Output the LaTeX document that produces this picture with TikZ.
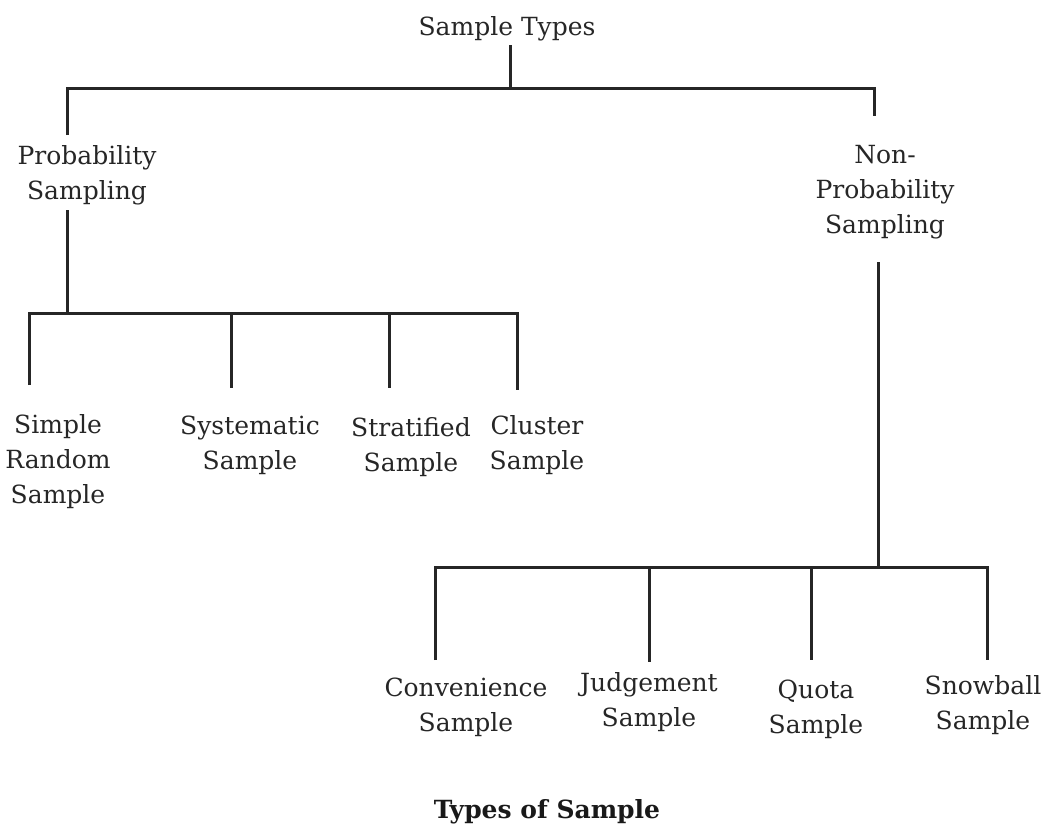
\documentclass[tikz,border=0pt]{standalone}
\usepackage{fontspec}
\setmainfont{DejaVu Serif}
\begin{document}
\begin{tikzpicture}[x=1pt,y=-1pt,
  lbl/.style={inner sep=0pt,align=center,font=\fontsize{25}{35}\selectfont,text=black!85},
  ttl/.style={inner sep=0pt,align=center,font=\bfseries\fontsize{25}{30}\selectfont,text=black!90},
  conn/.style={line width=3pt,draw=black!85}]
\useasboundingbox (0,0) rectangle (1049,827);
% nodes
\node[lbl] (root) at (507,29) {Sample Types};
\node[lbl] (prob) at (87,175) {Probability\\Sampling};
\node[lbl] (nonprob) at (885,192) {Non-\\Probability\\Sampling};
\node[lbl] (srs) at (58,462) {Simple\\Random\\Sample};
\node[lbl] (sys) at (250,445) {Systematic\\Sample};
\node[lbl] (str) at (411,447) {Stratified\\Sample};
\node[lbl] (clu) at (537,445) {Cluster\\Sample};
\node[lbl] (con) at (466,707) {Convenience\\Sample};
\node[lbl] (jud) at (649,702) {Judgement\\Sample};
\node[lbl] (quo) at (816,709) {Quota\\Sample};
\node[lbl] (sno) at (983,705) {Snowball\\Sample};
\node[ttl] (title) at (547,812) {Types of Sample};
% coordinates
\coordinate (r0) at (510,45);
\coordinate (r1) at (510,88);
\coordinate (bL) at (67,88);
\coordinate (bR) at (874,88);
\coordinate (pTop) at (67,135);
\coordinate (nTop) at (874,116);
\coordinate (p0) at (67,210);
\coordinate (p1) at (67,313);
\coordinate (pL) at (29,313);
\coordinate (pR) at (517,313);
\coordinate (a1) at (29,385);
\coordinate (a2t) at (231,313);
\coordinate (a2) at (231,388);
\coordinate (a3t) at (389,313);
\coordinate (a3) at (389,388);
\coordinate (a4) at (517,390);
\coordinate (n0) at (878,262);
\coordinate (n1) at (878,567);
\coordinate (nL) at (435,567);
\coordinate (nR) at (987,567);
\coordinate (b1) at (435,660);
\coordinate (b2t) at (649,567);
\coordinate (b2) at (649,662);
\coordinate (b3t) at (811,567);
\coordinate (b3) at (811,660);
\coordinate (b4) at (987,660);
% connectors
\draw[conn] (r0) -- (r1);
\draw[conn] (pTop) -- (bL) -- (bR) -- (nTop);
\draw[conn] (p0) -- (p1);
\draw[conn] (a1) -- (pL) -- (pR) -- (a4);
\draw[conn] (a2t) -- (a2);
\draw[conn] (a3t) -- (a3);
\draw[conn] (n0) -- (n1);
\draw[conn] (b1) -- (nL) -- (nR) -- (b4);
\draw[conn] (b2t) -- (b2);
\draw[conn] (b3t) -- (b3);
\end{tikzpicture}
\end{document}
